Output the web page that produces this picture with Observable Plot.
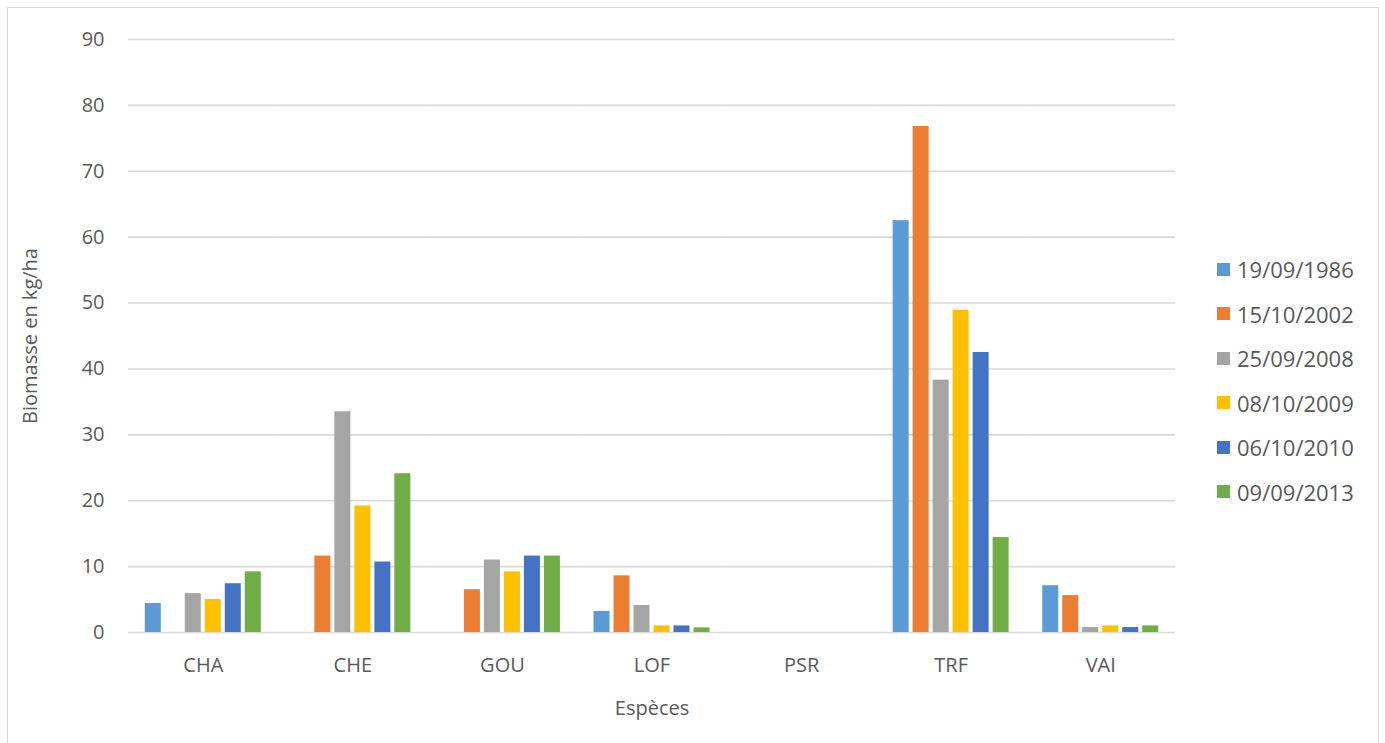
<!DOCTYPE html>
<html>
<head>
<meta charset="utf-8">
<script src="https://cdn.jsdelivr.net/npm/d3@7"></script>
<script src="https://cdn.jsdelivr.net/npm/@observablehq/plot@0.6"></script>
<style>
  html, body { margin: 0; padding: 0; background: #fff; }
  #wrap { position: relative; width: 1385px; height: 743px; overflow: hidden; font-family: 'Open Sans', sans-serif; color: #595959; }
  #border { position: absolute; left: 7px; top: 7px; width: 1372px; height: 760px; border: 1px solid #d9d9d9; box-sizing: border-box; }
  #chart { position: absolute; left: 0; top: 0; }
  .lg { position: absolute; left: 1217px; height: 30px; display: flex; align-items: center; font-size: 22px; white-space: nowrap; }
  .lg span.sw { display: inline-block; width: 13px; height: 13px; margin-right: 7px; }
</style>
</head>
<body>
<div id="wrap">
  <div id="border"></div>
  <div id="chart"></div>
  <div id="legend"></div>
</div>
<script>
const species = ["CHA", "CHE", "GOU", "LOF", "PSR", "TRF", "VAI"];
const dates = ["19/09/1986", "15/10/2002", "25/09/2008", "08/10/2009", "06/10/2010", "09/09/2013"];
const colors = ["#5B9BD5", "#ED7D31", "#A5A5A5", "#FFC000", "#4472C4", "#70AD47"];

// Biomasse (kg/ha) per species, one array per sampling date
const b1986 = [4.4, 0, 0, 3.2, 0, 62.5, 7.1];
const b2002 = [0, 11.6, 6.5, 8.6, 0, 76.8, 5.6];
const b2008 = [5.9, 33.5, 11.0, 4.1, 0, 38.3, 0.75];
const b2009 = [5.0, 19.2, 9.2, 1.0, 0, 48.9, 1.0];
const b2010 = [7.4, 10.7, 11.6, 1.0, 0, 42.5, 0.75];
const b2013 = [9.2, 24.1, 11.6, 0.7, 0, 14.4, 1.0];

const yTicks = [0, 10, 20, 30, 40, 50, 60, 70, 80, 90];

const series = [b1986, b2002, b2008, b2009, b2010, b2013];
const rows = dates.flatMap((d, i) => species.map((s, j) => ({species: s, date: d, value: series[i][j]})));

const chart = Plot.plot({
  width: 1385,
  height: 743,
  marginLeft: 128,
  marginRight: 210,
  marginTop: 39,
  marginBottom: 111,
  style: {fontFamily: "'Open Sans', sans-serif", fontSize: "20px", color: "#595959", background: "transparent"},
  fx: {domain: species, padding: 0, round: false},
  x: {domain: dates, paddingInner: 0.2, paddingOuter: 0.84, round: false, axis: null},
  y: {domain: [0, 90]},
  color: {domain: dates, range: colors},
  marks: [
    Plot.gridY({ticks: yTicks, stroke: "#d9d9d9", strokeOpacity: 1, strokeWidth: 1.6}),
    Plot.barY(rows, {fx: "species", x: "date", y: "value", fill: "date"}),
    Plot.axisY({ticks: yTicks, tickSize: 0, tickPadding: 24, fontSize: 20, label: "Biomasse en kg/ha", labelAnchor: "center", labelArrow: "none", labelOffset: 106}),
    Plot.axisFx({anchor: "bottom", tickSize: 0, tickPadding: 25, fontSize: 20, label: "Espèces", labelAnchor: "center", labelArrow: "none", labelOffset: 82})
  ]
});
document.getElementById("chart").appendChild(chart);

const legend = document.getElementById("legend");
const rowCenters = [269, 313.5, 358, 402.5, 447, 491.5];
dates.forEach((d, i) => {
  const row = document.createElement("div");
  row.className = "lg";
  row.style.top = (rowCenters[i] - 15) + "px";
  const sw = document.createElement("span");
  sw.className = "sw";
  sw.style.background = chart.scale("color").apply(d);
  row.appendChild(sw);
  row.appendChild(document.createTextNode(d));
  legend.appendChild(row);
});
</script>
</body>
</html>
